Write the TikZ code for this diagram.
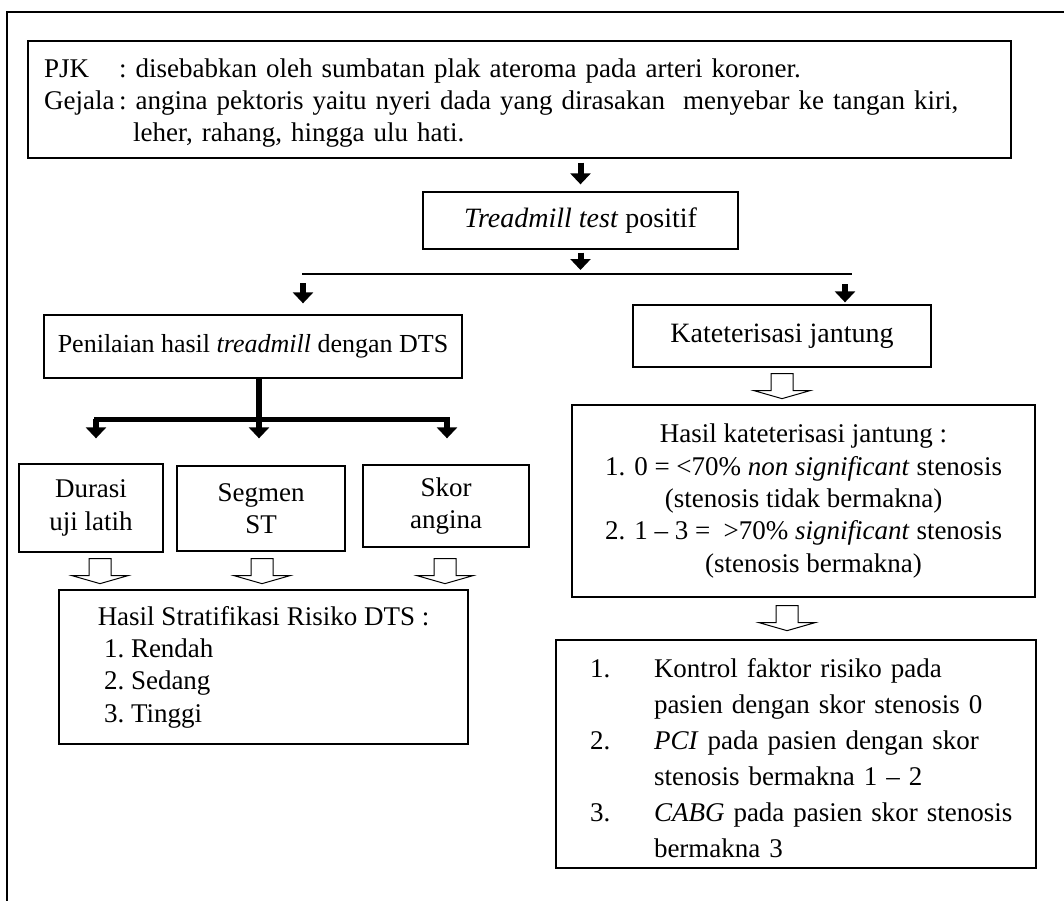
\documentclass[tikz,border=0pt]{standalone}
\usepackage{fontspec}
\setmainfont{Liberation Serif}
\usetikzlibrary{arrows.meta}
\newcommand\diafont{\fontsize{27}{32.3}\selectfont}
\newcommand\hollowarrow[1]{\draw[line width=1pt, fill=white] #1 ++(-11,0) -- ++(0,17) -- ++(-17,0) -- ++(28,8) -- ++(28,-8) -- ++(-17,0) -- ++(0,-17) -- cycle;}
\begin{document}
\begin{tikzpicture}[x=1pt,y=-1pt,
  box/.style={draw, line width=1.3pt, inner sep=0pt, align=center, font=\diafont},
  blk/.style={line width=6pt, -{Triangle[width=20pt,length=11pt]}},
  barline/.style={line width=2.5pt},
  thickbar/.style={line width=5pt, line cap=rect}]
\useasboundingbox (0,0) rectangle (1064,901);
\fill[white] (0,0) rectangle (1064,901);
% outer frame
\draw[line width=1.5pt] (1064,12) -- (7,12) -- (7,901);

\node[box, minimum width=983pt, minimum height=117pt] (top) at (519.5,99.5) {};
\node[inner sep=0pt, anchor=west, text width=960pt, align=left,
  font=\fontsize{27}{32}\selectfont] (toptxt) at (44,103)
  {\makebox[75pt][l]{PJK}:\ disebabkan oleh sumbatan plak ateroma pada arteri koroner.\\
   \makebox[75pt][l]{Gejala}:\ angina pektoris yaitu nyeri dada yang dirasakan\ \ menyebar ke tangan kiri,\\
   \hspace*{89pt}leher, rahang, hingga ulu hati.};

\node[box, minimum width=315pt, minimum height=57pt, font=\fontsize{28}{32}\selectfont] (tread) at (580.5,220.5) {\textit{Treadmill test} positif};
\node[box, minimum width=418pt, minimum height=63pt, font=\fontsize{26}{32}\selectfont] (pen) at (253,346.5) {Penilaian hasil \textit{treadmill} dengan DTS};
\node[box, minimum width=298pt, minimum height=62pt, font=\fontsize{28}{32}\selectfont] (kat) at (782,336) {Kateterisasi jantung};
\node[box, minimum width=463pt, minimum height=192pt] (hk) at (803.5,501)
  {Hasil kateterisasi jantung :\\
   1. 0 = <70\% \textit{non significant} stenosis\\
   (stenosis tidak bermakna)\\
   2. 1 -- 3 = \ >70\% \textit{significant} stenosis\\
   \hspace*{20pt}(stenosis bermakna)};
\node[box, minimum width=144pt, minimum height=88pt] (dur) at (91,508) {Durasi\\uji latih};
\node[box, minimum width=168pt, minimum height=85pt] (seg) at (261,508.5) {Segmen\\ST};
\node[box, minimum width=166pt, minimum height=82pt] (skor) at (446,506) {Skor\\angina};
\node[box, minimum width=409pt, minimum height=154pt] (strat) at (263.5,667)
  {Hasil Stratifikasi Risiko DTS :\\
   \makebox[319pt][l]{\makebox[27pt][l]{1.}Rendah}\\
   \makebox[319pt][l]{\makebox[27pt][l]{2.}Sedang}\\
   \makebox[319pt][l]{\makebox[27pt][l]{3.}Tinggi}};
\node[box, minimum width=480pt, minimum height=228pt] (ctrl) at (796,754) {};
\node[inner sep=0pt, text width=440pt, align=left,
  font=\fontsize{27}{36}\selectfont]
  (ctrltxt) at (810,758)
  {\makebox[64pt][l]{1.}Kontrol faktor risiko pada\\
   \hspace*{64pt}pasien dengan skor stenosis 0\\
   \makebox[64pt][l]{2.}\textit{PCI} pada pasien dengan skor\\
   \hspace*{64pt}stenosis bermakna 1 -- 2\\
   \makebox[64pt][l]{3.}\textit{CABG} pada pasien skor stenosis\\
   \hspace*{64pt}bermakna 3};

% connectors
\coordinate (barL) at (302,274);
\coordinate (barR) at (852,274);
\coordinate (aL) at (303,283);
\coordinate (aR) at (845,284);
\coordinate (st) at (259,419);
\coordinate (b3L) at (96,419);
\coordinate (b3R) at (447,419);

\draw[blk, shorten <=4pt, shorten >=7pt] (top.south -| tread.center) -- (tread.north);
\draw[blk, shorten <=3pt, shorten >=4pt] (tread.south) -- (tread.south |- barL);
\draw[barline] (barL) -- (barR);
\draw[blk, shorten >=11pt] (aL) -- (aL |- pen.north);
\draw[blk, shorten >=2pt] (aR) -- (aR |- kat.north);

\draw[line width=6pt] (pen.south -| st) -- (st);
\draw[thickbar] (b3L) -- (b3R);
\draw[blk, shorten >=25pt] (b3L) -- (b3L |- dur.north);
\draw[blk, shorten >=27pt] (st) -- (st |- seg.north);
\draw[blk, shorten >=26pt] (b3R) -- (b3R |- skor.north);

\coordinate (h1) at ([xshift=9pt,yshift=-6pt]dur.south);
\coordinate (h2) at ([xshift=1pt,yshift=-7pt]seg.south);
\coordinate (h3) at ([xshift=-1pt,yshift=-11pt]skor.south);
\coordinate (h4) at ([yshift=-6pt]kat.south);
\coordinate (h5) at ([xshift=-16.5pt,yshift=-8pt]hk.south);
\hollowarrow{(h1)}
\hollowarrow{(h2)}
\hollowarrow{(h3)}
\hollowarrow{(h4)}
\hollowarrow{(h5)}
\end{tikzpicture}
\end{document}
